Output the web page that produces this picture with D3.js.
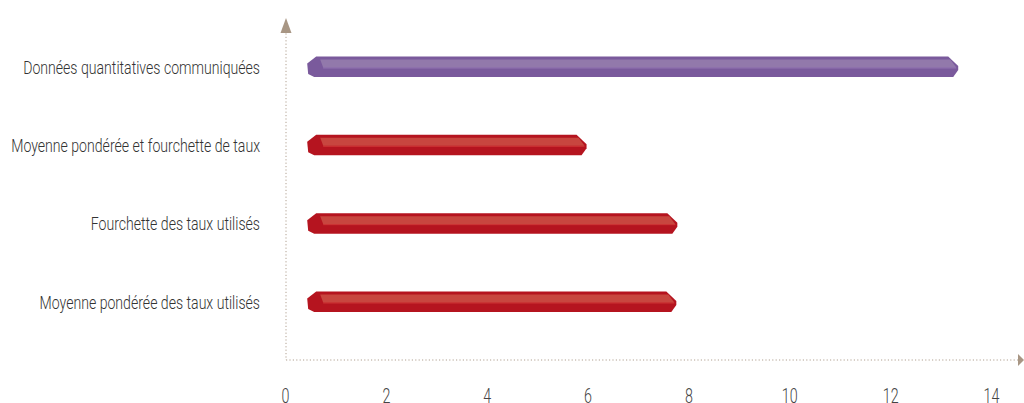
<!DOCTYPE html>
<html><head><meta charset="utf-8">
<script src="https://cdn.jsdelivr.net/npm/d3@7"></script>
<style>
body{margin:0;background:#fff;}
svg{display:block;}
text{font-family:Roboto,"Liberation Sans",sans-serif;font-weight:300;}
</style></head>
<body>
<svg id="chart" width="1024" height="403"></svg>
<script>
const categories = ["Données quantitatives communiquées","Moyenne pondérée et fourchette de taux","Fourchette des taux utilisés","Moyenne pondérée des taux utilisés"];
const values = [13.35, 5.98, 7.78, 7.76];
const barStart = 0.44;
const barColors = [["#7a5a9c","#9279ab"],["#b5141f","#c8463f"],["#b5141f","#c8463f"],["#b5141f","#c8463f"]];
const xTicks = [0,2,4,6,8,10,12,14];

const svg = d3.select("#chart");
const x = d3.scaleLinear().domain([0,14]).range([285,991]);
const y = d3.scalePoint().domain(categories).range([67,302]);
const axisColor = "#b0a090";

// axes (dotted)
svg.append("line").attr("x1",286).attr("x2",286).attr("y1",30).attr("y2",360)
  .attr("stroke",axisColor).attr("stroke-width",1).attr("stroke-dasharray","1.2,2.2");
svg.append("line").attr("x1",286).attr("x2",1018).attr("y1",360).attr("y2",360)
  .attr("stroke",axisColor).attr("stroke-width",1).attr("stroke-dasharray","1.2,2.2");
svg.append("path").attr("d","M286,18 L280.5,33 L291.5,33 Z").attr("fill","#a89684");
svg.append("path").attr("d","M1024,360 L1018,354 L1018,366 Z").attr("fill","#a89684");

// tick labels
const xAxis = d3.axisBottom(x).tickValues(xTicks).tickSize(0).tickFormat(d3.format("d"));
const gx = svg.append("g").attr("transform","translate(0,388)").call(xAxis);
gx.select(".domain").remove();
gx.selectAll("text").attr("fill","#444").attr("font-size","21px").attr("dy","0.71em")
  .attr("y",0).attr("font-family",null).attr("transform","scale(0.68,1)");

// category labels
const lab = svg.append("g").selectAll("g").data(categories).join("g")
  .attr("transform",d=>`translate(260,${y(d)+2})`);
const labText = lab.append("text").attr("text-anchor","end").attr("dominant-baseline","middle")
  .attr("fill","#333").attr("font-size","18px").text(d=>d);
const w0 = labText.nodes()[0].getComputedTextLength();
const sx = 237 / w0;
labText.attr("transform",`scale(${sx},1)`);

// bars
const bars = svg.append("g").selectAll("g").data(values).join("g");
bars.each(function(v,i){
  const g = d3.select(this);
  const cy = y(categories[i]);
  const x0 = x(barStart), x1 = x(v);
  const top = cy-10.5, bot = cy+10;
  const [dark, light] = barColors[i];
  g.append("path").attr("fill",dark).attr("d",
    `M${x0+9},${top} L${x1-10},${top} L${x1},${cy-1} L${x1},${cy+3} L${x1-5},${bot} L${x0+7},${bot} L${x0+1},${bot-3} L${x0},${top+7} Z`);
  g.append("path").attr("fill",light).attr("d",
    `M${x0+13},${top+3} L${x1-8},${top+3} L${x1-2},${cy+0.5} L${x0+16},${cy+0.5} Z`);
  g.append("line").attr("x1",x0+16).attr("x2",x1-2).attr("y1",cy+1).attr("y2",cy+1)
    .attr("stroke",d3.color(light).brighter(0.4)).attr("stroke-width",1).attr("opacity",0.5);
});
</script>
</body></html>
